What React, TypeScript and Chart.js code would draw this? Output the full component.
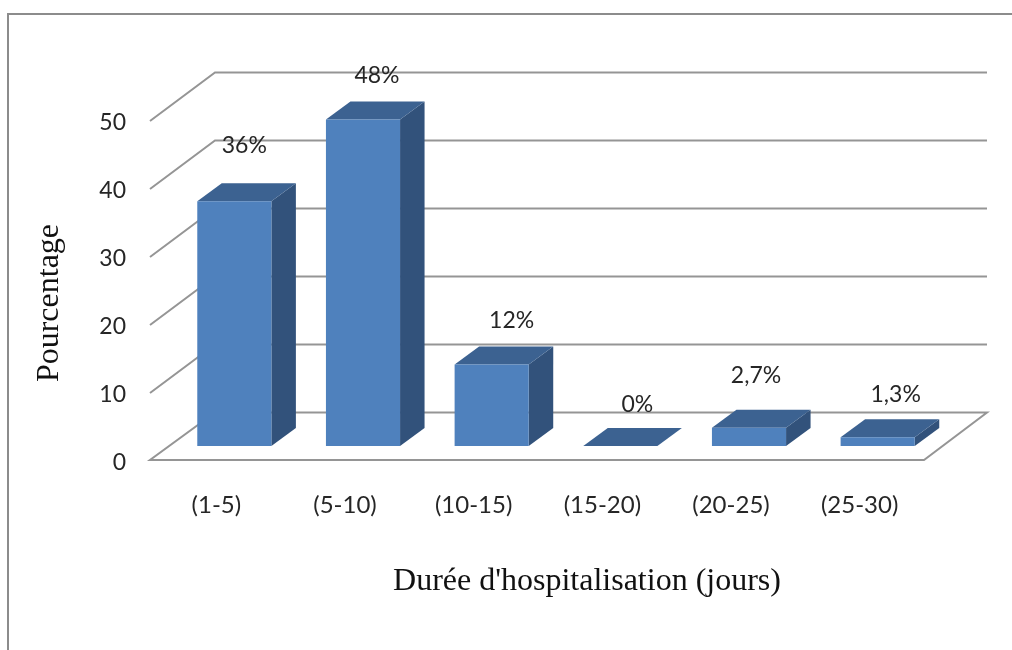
import React, { useEffect, useRef } from "react";
import { Chart, registerables } from "chart.js";

Chart.register(...registerables);

const categories = ["(1-5)", "(5-10)", "(10-15)", "(15-20)", "(20-25)", "(25-30)"];
const percentages = [36, 48, 12, 0, 2.7, 1.3];
const valueLabels = ["36%", "48%", "12%", "0%", "2,7%", "1,3%"];
const labelShiftX = [10, 14, 20, 17, 7, 18];
const labelShiftY = [-56, -44, -44, -41, -52, -43];

const yTitle = "Pourcentage";
const xTitle = "Durée d'hospitalisation (jours)";

const LINE = "#959595";
const FRAME = "#8c8c8c";
const TEXT = "#262626";
const FRONT = "#4f81bd";
const TOP = "#3c6291";
const SIDE = "#32527b";
const SANS = "Lato";
const SERIF = "'Liberation Serif'";

// Oblique projection of the floor and wall
const WALL_DX = 63;
const WALL_DY = -47.5;
// Position of the bars inside that depth, and the depth of each bar
const BAR_DX = 18;
const BAR_DY = -14;
const BOX_DX = 24.5;
const BOX_DY = -18;

const poly = (ctx: CanvasRenderingContext2D, pts: number[][]) => {
  ctx.beginPath();
  pts.forEach(([x, y], i) => (i ? ctx.lineTo(x, y) : ctx.moveTo(x, y)));
};

const depthPlugin = {
  id: "depth",
  beforeDraw(chart: any) {
    const { ctx, width, height } = chart;
    ctx.save();
    ctx.strokeStyle = FRAME;
    ctx.lineWidth = 2;
    poly(ctx, [[8, height], [8, 14], [width, 14]]);
    ctx.stroke();
    ctx.restore();
  },
  beforeDatasetsDraw(chart: any) {
    const { ctx, chartArea, scales } = chart;
    const { left, right, bottom } = chartArea;
    ctx.save();
    ctx.strokeStyle = LINE;
    ctx.lineWidth = 2;
    ctx.lineJoin = "miter";
    // Wall grid: each line folds from the side wall onto the back wall
    for (const t of scales.y.ticks) {
      if (t.value === 0) continue;
      const y = scales.y.getPixelForValue(t.value);
      poly(ctx, [[left - 2, y + 1], [left + WALL_DX, y + WALL_DY], [right + WALL_DX, y + WALL_DY]]);
      ctx.stroke();
    }
    // Floor outline
    poly(ctx, [
      [left + WALL_DX, bottom + WALL_DY],
      [right + WALL_DX, bottom + WALL_DY],
      [right, bottom],
      [left - 2, bottom],
    ]);
    ctx.closePath();
    ctx.stroke();
    ctx.restore();

    // Tops and sides of the boxes, then shift the fronts into place
    ctx.save();
    ctx.translate(BAR_DX, BAR_DY);
    for (const el of chart.getDatasetMeta(0).data) {
      const l = el.x - el.width / 2;
      const r = el.x + el.width / 2;
      const top = el.y;
      const base = el.base;
      ctx.fillStyle = SIDE;
      poly(ctx, [[r, top], [r + BOX_DX, top + BOX_DY], [r + BOX_DX, base + BOX_DY], [r, base]]);
      ctx.closePath();
      ctx.fill();
      ctx.fillStyle = TOP;
      poly(ctx, [[l, top], [l + BOX_DX, top + BOX_DY], [r + BOX_DX, top + BOX_DY], [r, top]]);
      ctx.closePath();
      ctx.fill();
    }
  },
  afterDatasetsDraw(chart: any) {
    const { ctx, chartArea } = chart;
    ctx.restore();

    ctx.save();
    ctx.fillStyle = TEXT;
    ctx.textAlign = "center";
    ctx.textBaseline = "middle";
    ctx.font = `23px ${SANS}`;
    chart.getDatasetMeta(0).data.forEach((el: any, i: number) => {
      ctx.fillText(valueLabels[i], el.x + BAR_DX + labelShiftX[i], el.y + BAR_DY + labelShiftY[i]);
    });

    // Axis titles
    ctx.fillStyle = "#111111";
    ctx.font = `32px ${SERIF}`;
    ctx.fillText(xTitle, 587, chartArea.bottom + 122);
    ctx.translate(50, 303);
    ctx.rotate(-Math.PI / 2);
    ctx.fillText(yTitle, 0, 0);
    ctx.restore();
  },
};

export default function App() {
  const ref = useRef<HTMLCanvasElement>(null);

  useEffect(() => {
    const chart = new Chart(ref.current as HTMLCanvasElement, {
      type: "bar",
      data: {
        labels: categories,
        datasets: [
          {
            data: percentages,
            backgroundColor: FRONT,
            borderWidth: 0,
            categoryPercentage: 1,
            barPercentage: 0.576,
          },
        ],
      },
      plugins: [depthPlugin],
      options: {
        animation: false,
        responsive: false,
        layout: { padding: { top: 120, right: 88, left: 0, bottom: 0 } },
        plugins: { legend: { display: false }, tooltip: { enabled: false } },
        scales: {
          x: {
            grid: { display: false },
            border: { display: false },
            afterFit: (s: any) => {
              s.height = 190;
            },
            ticks: {
              autoSkip: false,
              maxRotation: 0,
              padding: 23,
              color: TEXT,
              font: { family: SANS, size: 24 },
            },
          },
          y: {
            min: 0,
            max: 50,
            grid: { display: false, drawTicks: false },
            border: { display: false },
            afterFit: (s: any) => {
              s.width = 152;
            },
            ticks: {
              stepSize: 10,
              padding: 26,
              color: TEXT,
              // The empty first line nudges each number down to sit level with its grid line
              callback: (v: any) => ["", String(v)],
              font: { family: SANS, size: 23, lineHeight: 0.2 },
            },
          },
        },
      },
    });
    return () => chart.destroy();
  }, []);

  return (
    <div style={{ position: "fixed", left: 0, top: 0, width: 1012, height: 650, background: "#ffffff" }}>
      <canvas ref={ref} width={1012} height={650} style={{ display: "block" }} />
    </div>
  );
}
